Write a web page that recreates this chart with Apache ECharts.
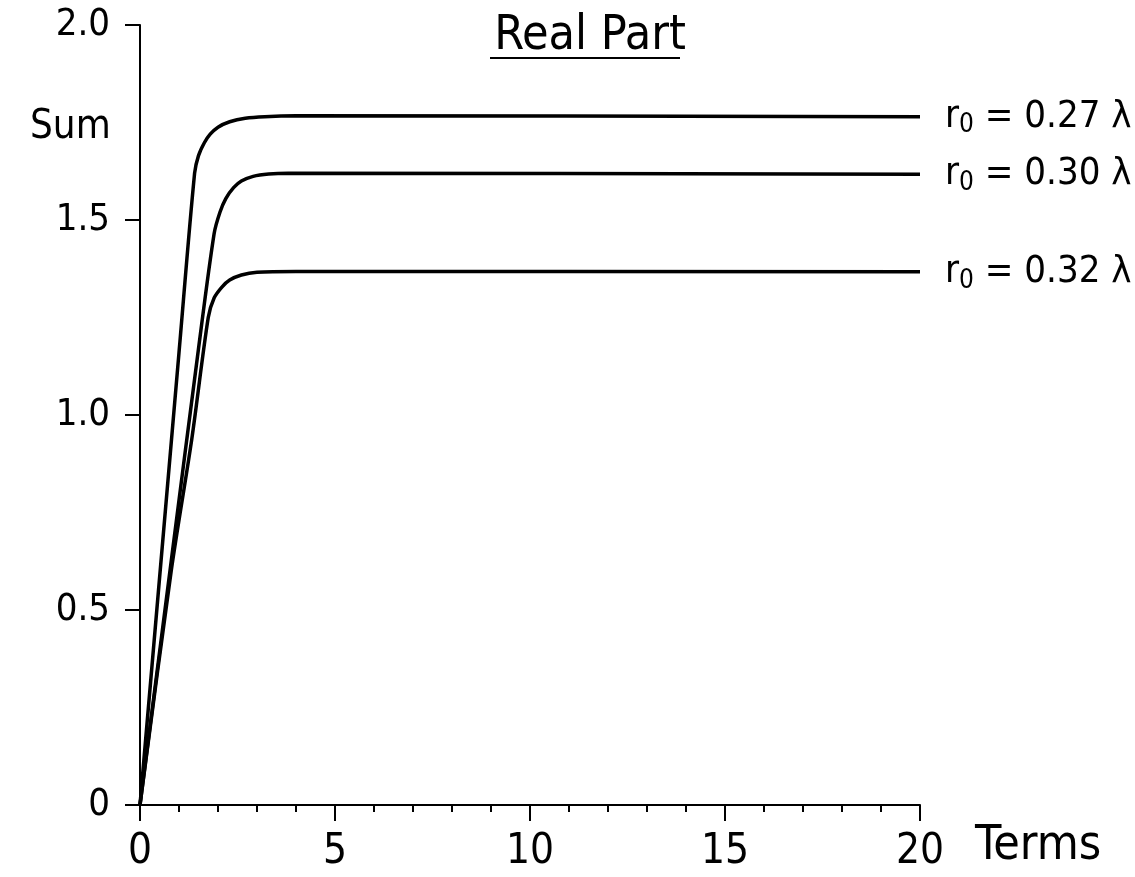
<!DOCTYPE html>
<html>
<head>
<meta charset="utf-8">
<script src="https://cdn.jsdelivr.net/npm/echarts@6/dist/echarts.min.js"></script>
<style>
  html, body { margin: 0; padding: 0; background: #fff; }
  #chart { width: 1135px; height: 877px; }
</style>
</head>
<body>
<div id="chart"></div>
<script>
// values: [terms, sum]
const curveR027 = [[0, 0], [1.0, 1.16], [1.4, 1.62], [1.5, 1.665], [1.65, 1.698], [1.8, 1.72], [2.0, 1.738], [2.3, 1.752], [2.7, 1.761], [3.2, 1.765], [4, 1.767], [20, 1.765]];
const curveR030 = [[0, 0], [0.8, 0.625], [1.5, 1.17], [1.9, 1.465], [2.05, 1.52], [2.2, 1.555], [2.4, 1.583], [2.6, 1.6], [2.9, 1.612], [3.3, 1.618], [3.8, 1.62], [20, 1.617]];
const curveR032 = [[0, 0], [0.8, 0.6], [1.33, 0.94], [1.75, 1.25], [1.9, 1.3], [2.1, 1.328], [2.3, 1.346], [2.6, 1.359], [3.0, 1.366], [4, 1.368], [20, 1.367]];

const radii = ['0.27', '0.30', '0.32'];
const curves = [curveR027, curveR030, curveR032];
const yTickLabels = { 0: '0', 0.5: '0.5', 1: '1.0', 1.5: '1.5', 2: '2.0' };

const FONT = '"Liberation Sans Narrow", "DejaVu Sans Condensed", sans-serif';

const chart = echarts.init(document.getElementById('chart'), null, { renderer: 'canvas' });

const option = {
  backgroundColor: '#fff',
  animation: false,
  textStyle: { fontFamily: FONT, color: '#000' },
  title: {
    text: 'Real Part',
    left: 585,
    top: 8,
    textAlign: 'center',
    textStyle: { fontFamily: FONT, fontSize: 48, fontWeight: 'normal', color: '#000' }
  },
  graphic: [
    // underline under the title
    { type: 'line', shape: { x1: 490, y1: 58, x2: 680, y2: 58 }, style: { stroke: '#000', lineWidth: 2 } },
    { type: 'text', left: 30, top: 108, style: { text: 'Sum', fontFamily: FONT, fontSize: 40, fill: '#000' } }
  ],
  grid: { left: 140, right: 215, top: 25, bottom: 72 },
  xAxis: {
    type: 'value',
    min: 0,
    max: 20,
    interval: 5,
    name: 'Terms',
    nameLocation: 'end',
    nameGap: 55,
    nameTextStyle: { fontFamily: FONT, fontSize: 48, color: '#000', verticalAlign: 'top', padding: [18, 0, 0, 0] },
    splitLine: { show: false },
    axisLine: { show: true, lineStyle: { color: '#000', width: 2 } },
    axisTick: { show: true, inside: false, length: 16, lineStyle: { color: '#000', width: 2 } },
    minorTick: { show: true, splitNumber: 5, length: 7, lineStyle: { color: '#000', width: 2 } },
    axisLabel: { color: '#000', fontFamily: FONT, fontSize: 42, margin: 26 }
  },
  yAxis: {
    type: 'value',
    min: 0,
    max: 2,
    interval: 0.5,
    splitLine: { show: false },
    axisLine: { show: true, onZero: false, lineStyle: { color: '#000', width: 2 } },
    axisTick: { show: true, inside: false, length: 15, lineStyle: { color: '#000', width: 2 } },
    axisLabel: {
      color: '#000', fontFamily: FONT, fontSize: 38, margin: 30,
      formatter: v => yTickLabels[v] ?? String(v)
    }
  },
  series: curves.map((pts, i) => ({
    name: 'r0 = ' + radii[i] + ' λ',
    type: 'line',
    data: pts,
    smooth: 0.3,
    showSymbol: false,
    lineStyle: { color: '#000', width: 3.5 },
    endLabel: {
      show: true,
      distance: 25,
      formatter: () => '{r|r}{s|0}{t| = ' + radii[i] + ' λ}',
      rich: {
        r: { fontFamily: FONT, fontSize: 38, color: '#000' },
        s: { fontFamily: FONT, fontSize: 26, color: '#000', verticalAlign: 'bottom', padding: [18, 0, 0, 0] },
        t: { fontFamily: FONT, fontSize: 38, color: '#000' }
      }
    }
  }))
};

chart.setOption(option);
</script>
</body>
</html>
